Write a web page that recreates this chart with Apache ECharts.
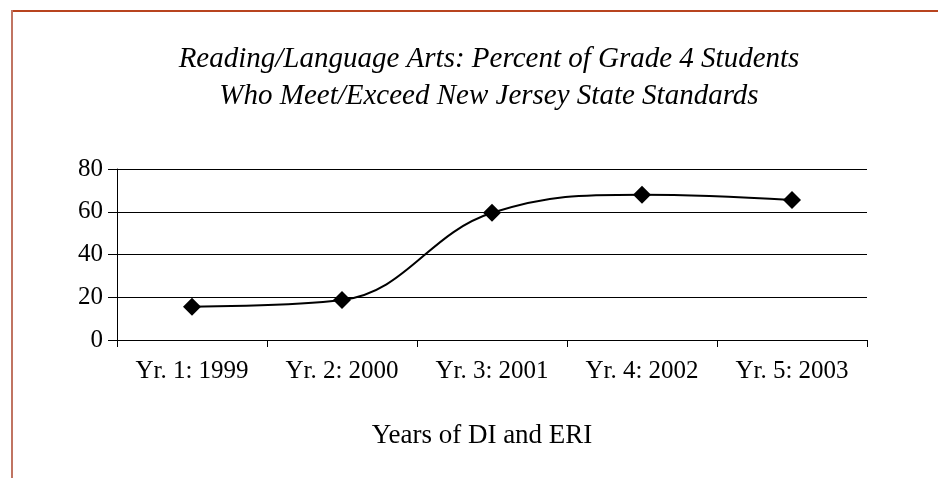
<!DOCTYPE html>
<html lang="en">
<head>
    <meta http-equiv="Content-Type" content="text/html; charset=UTF-8">
    <script type="text/javascript" src="https://cdn.jsdelivr.net/npm/echarts@6/dist/echarts.min.js"></script>
    <style>
        html, body { margin: 0; padding: 0; background: #fff; }
    </style>
</head>
<body>
<div id="main" style="height:478px;width:938px;"></div>
<script type="text/javascript">
    // 数据
    var years = ['Yr. 1: 1999', 'Yr. 2: 2000', 'Yr. 3: 2001', 'Yr. 4: 2002', 'Yr. 5: 2003'];
    var percent = [15.6, 18.7, 59.5, 68, 65.5];
    var yTicks = [0, 20, 40, 60, 80];

    var myChart = echarts.init(document.getElementById('main'));
    var serif = '"Liberation Serif", "DejaVu Serif", serif';

    var option = {
        backgroundColor: '#fff',
        animation: false,
        title: {
            text: 'Reading/Language Arts: Percent of Grade 4 Students\nWho Meet/Exceed New Jersey State Standards',
            left: 484,
            textAlign: 'center',
            top: 36,
            textStyle: {
                fontFamily: serif,
                fontStyle: 'italic',
                fontWeight: 'normal',
                fontSize: 29,
                lineHeight: 37,
                color: '#000'
            }
        },
        graphic: [
            { type: 'line', shape: { x1: 11, y1: 11, x2: 938, y2: 11 }, style: { stroke: '#b8441f', lineWidth: 2 } },
            { type: 'line', shape: { x1: 12, y1: 10, x2: 12, y2: 478 }, style: { stroke: '#c07462', lineWidth: 2 } }
        ],
        grid: {
            left: 117,
            right: 71,
            top: 169,
            bottom: 138
        },
        xAxis: {
            type: 'category',
            data: years,
            boundaryGap: true,
            name: 'Years of DI and ERI',
            nameLocation: 'middle',
            nameGap: 82,
            nameTextStyle: { fontFamily: serif, fontSize: 27, color: '#000', padding: [0, 20, 0, 0] },
            axisLine: { lineStyle: { color: '#000', width: 1 } },
            axisTick: { show: true, length: 7, lineStyle: { color: '#000' } },
            axisLabel: { fontFamily: serif, fontSize: 25, color: '#000', margin: 19 }
        },
        yAxis: {
            type: 'value',
            min: yTicks[0],
            max: yTicks[yTicks.length - 1],
            interval: 20,
            axisLine: { show: true, lineStyle: { color: '#000', width: 1 } },
            axisTick: { show: true, length: 9, lineStyle: { color: '#000' } },
            axisLabel: { fontFamily: serif, fontSize: 25, color: '#000', margin: 14 },
            splitLine: { show: true, lineStyle: { color: '#000', width: 1 } }
        },
        series: [{
            name: 'Percent',
            type: 'line',
            data: percent,
            smooth: 0.4,
            symbol: 'diamond',
            symbolSize: 18,
            itemStyle: { color: '#000' },
            lineStyle: { color: '#000', width: 2 }
        }]
    };

    myChart.setOption(option);
</script>
</body>
</html>
